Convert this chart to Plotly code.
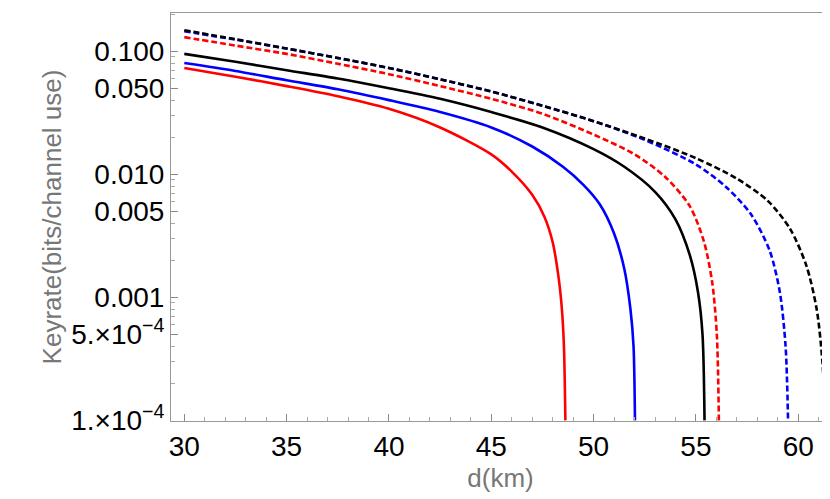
import plotly.graph_objects as go

d_red = [30, 32.5, 35, 37.5, 40, 42.5, 45, 46, 47, 47.6, 48, 48.3, 48.45, 48.55, 48.62]
k_red = [0.073, 0.062, 0.052, 0.043, 0.034, 0.024, 0.0145, 0.0105, 0.0068, 0.0045, 0.0028, 0.0014, 0.0008, 0.0004, 0.0001]
d_blue = [30, 32.5, 35, 37.5, 40, 42.5, 45, 47, 48.5, 49.5, 50.3, 51, 51.5, 51.8, 51.95, 52.02]
k_blue = [0.08, 0.069, 0.058, 0.049, 0.04, 0.032, 0.024, 0.0168, 0.0115, 0.0082, 0.0057, 0.0033, 0.0017, 0.0008, 0.0004, 0.0001]
d_black = [30, 32.5, 35, 37.5, 40, 42.5, 45, 47.5, 50, 51.5, 53, 54, 54.7, 55.1, 55.32, 55.42]
k_black = [0.095, 0.082, 0.07, 0.06, 0.05, 0.041, 0.032, 0.024, 0.016, 0.0115, 0.0072, 0.0043, 0.0022, 0.0011, 0.0005, 0.0001]
d_redd = [30, 32.5, 35, 37.5, 40, 42.5, 45, 47.5, 50, 52, 53.5, 54.7, 55.4, 55.8, 56.02, 56.12]
k_redd = [0.13, 0.111, 0.095, 0.079, 0.065, 0.052, 0.041, 0.031, 0.021, 0.0145, 0.0095, 0.0055, 0.0028, 0.0013, 0.0005, 0.0001]
d_blued = [30, 32.5, 35, 37.5, 40, 42.5, 45, 47.5, 50, 52.5, 55, 56.5, 57.7, 58.6, 59.1, 59.38, 59.5]
k_blued = [0.145, 0.124, 0.105, 0.088, 0.073, 0.059, 0.047, 0.036, 0.027, 0.019, 0.012, 0.0078, 0.0047, 0.0024, 0.0011, 0.0004, 0.0001]
d_blackd = [30, 32.5, 35, 37.5, 40, 42.5, 45, 47.5, 50, 52.5, 55, 57, 58.5, 59.6, 60.4, 60.9, 61.18, 61.32]
k_blackd = [0.148, 0.125, 0.105, 0.088, 0.073, 0.059, 0.047, 0.036, 0.027, 0.0195, 0.0135, 0.0092, 0.0061, 0.0036, 0.0018, 0.0008, 0.0003, 0.0001]

ytickvals = [1e-4, 5e-4, 0.001, 0.005, 0.01, 0.05, 0.1]
yticktext = ["1.×10<sup>−4</sup>", "5.×10<sup>−4</sup>", "0.001", "0.005", "0.010", "0.050", "0.100"]
yminor = [2e-4, 3e-4, 4e-4, 6e-4, 7e-4, 8e-4, 9e-4, 0.002, 0.003, 0.004, 0.006, 0.007,
          0.008, 0.009, 0.02, 0.03, 0.04, 0.06, 0.07, 0.08, 0.09, 0.2]

series = [
    (d_red, k_red, "red", "solid"),
    (d_blue, k_blue, "blue", "solid"),
    (d_black, k_black, "black", "solid"),
    (d_redd, k_redd, "red", "6px,3px"),
    (d_blued, k_blued, "blue", "6px,3px"),
    (d_blackd, k_blackd, "black", "6px,3px"),
]

fig = go.Figure()
for x, y, c, dash in series:
    fig.add_trace(go.Scatter(x=x, y=y, mode="lines",
                             line=dict(color=c, width=2.6, dash=dash, shape="spline", smoothing=0.8),
                             showlegend=False, cliponaxis=True))

fig.update_layout(
    width=830, height=499,
    margin=dict(l=163, r=8, t=5, b=86),
    plot_bgcolor="white", paper_bgcolor="white",
    font=dict(family="Liberation Sans, Arial, sans-serif", size=28, color="black"),
)
fig.update_xaxes(
    range=[29.35, 61.55], tickvals=[30, 35, 40, 45, 50, 55, 60], automargin=False,
    ticks="inside", ticklen=7, tickcolor="#888", showgrid=False, zeroline=False,
    showline=True, linecolor="#999", mirror=True,
    minor=dict(dtick=1, ticks="inside", ticklen=4, tickcolor="#aaa"),
    title=dict(text="d(km)", font=dict(color="#777", size=26), standoff=8),
)
fig.update_yaxes(
    type="log", range=[-4.005, -0.69], tickvals=ytickvals, ticktext=yticktext, automargin=False,
    ticks="inside", ticklen=7, tickcolor="#888", showgrid=False, zeroline=False,
    showline=True, linecolor="#999", mirror=True,
    minor=dict(tickvals=yminor, ticks="inside", ticklen=4, tickcolor="#aaa"),
    title=dict(text="Keyrate(bits/channel use)", font=dict(color="#777", size=26), standoff=2),
)
fig.write_html("out.html")
